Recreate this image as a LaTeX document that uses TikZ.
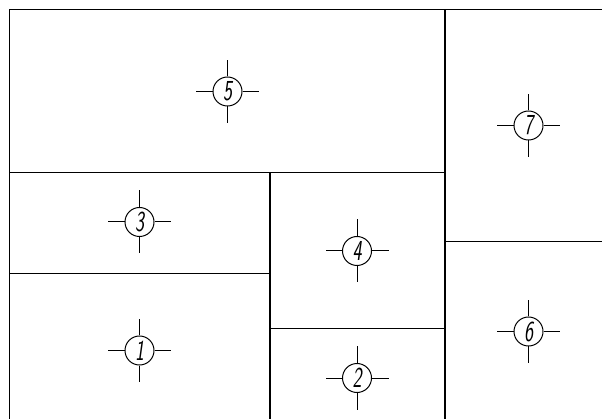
\documentclass[tikz,border=0pt]{standalone}
\begin{document}
\begin{tikzpicture}[x=1pt,y=-1pt,line width=1.1pt,
  ctr/.style={circle,draw,line width=1pt,minimum size=29pt,inner sep=0pt,
    font=\sffamily\slshape\fontsize{29}{29}\selectfont},
  tick/.style={line width=1pt}]
\useasboundingbox (0,0) rectangle (602,419);
% frame lines
\draw (9.5,419) -- (9.5,9.5) -- (602,9.5);
\draw (445,9.5) -- (445,419);
\draw (9.5,172.5) -- (445,172.5);
\draw (270,172.5) -- (270,419);
\draw (9.5,273.5) -- (270,273.5);
\draw (270,328.5) -- (445,328.5);
\draw (445,241.5) -- (602,241.5);
% symbols
\newcommand\roomsym[3]{%
  \node[ctr] (#1) at (#2) {\scalebox{0.66}[1]{#3}};
  \draw[tick] (#1.north) -- ++(0,-16.5);
  \draw[tick] (#1.south) -- ++(0,16.5);
  \draw[tick] (#1.west) -- ++(-16.5,0);
  \draw[tick] (#1.east) -- ++(16.5,0);}
\roomsym{r5}{227.5,91.5}{5}
\roomsym{r7}{528.5,125.5}{7}
\roomsym{r3}{139.5,222}{3}
\roomsym{r4}{357,251}{4}
\roomsym{r1}{139.5,350.5}{1}
\roomsym{r2}{357,378}{2}
\roomsym{r6}{528.5,331.5}{6}
\end{tikzpicture}
\end{document}
